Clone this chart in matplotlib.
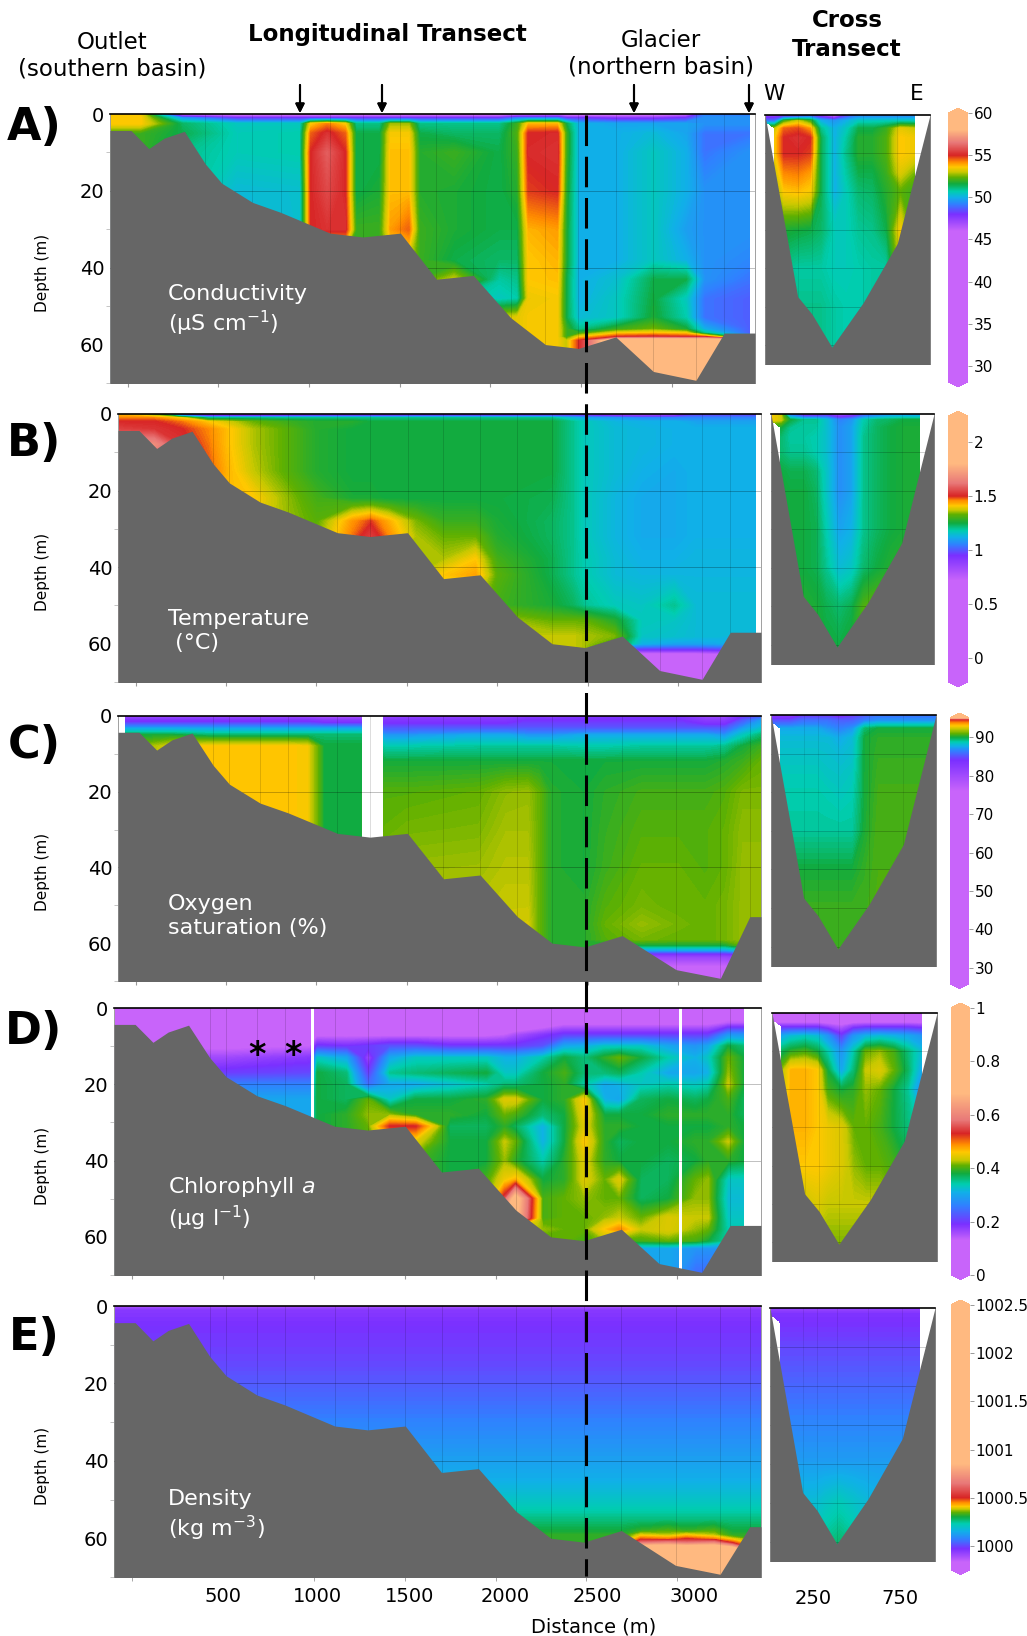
import numpy as np
import matplotlib
matplotlib.use('Agg')
import matplotlib.pyplot as plt
from matplotlib.colors import LinearSegmentedColormap, Normalize
from matplotlib.cm import ScalarMappable
from matplotlib.lines import Line2D

N = np.nan
W, H = 1027, 1636

# bottom profile along the lake and across it
bathy_x = [-98, 18, 116, 200, 312, 428, 518, 688, 844, 1116, 1297, 1504, 1703, 1906, 2112, 2304, 2486, 2692, 2899, 3134, 3290, 3460]
bathy_z = [4.3, 4.3, 9, 6.3, 4.5, 13, 18, 23, 25.6, 31, 32, 31, 43, 42, 53, 60, 61, 58, 67, 69.3, 57, 57]
bathy_x_late = [-98, 18, 116, 200, 312, 428, 518, 688, 844, 1116, 1297, 1504, 1703, 1906, 2112, 2304, 2486, 2692, 2990, 3235, 3398, 3460]
bathy_z_c = [4.3, 4.3, 9, 6.3, 4.5, 13, 18, 23, 25.6, 31, 32, 31, 43, 42, 53, 60, 61, 58, 67, 69.3, 53, 53]
cross_x = [0, 188, 271, 385, 565, 762, 950]
cross_z = [0, 47.4, 52, 60.6, 49, 33.5, 0]

colours = ['#C864FA', '#7A30FF', '#3080FF', '#10B0E8', '#00CDB0', '#10AB40', '#60B000', '#C8C800', '#FFC800', '#FF8A00', '#D82525', '#E87878', '#FFB980']

stops_a = [46, 48, 49.2, 50, 50.7, 51.6, 52.4, 53, 53.6, 54.2, 55, 56.5, 58]
stops_b = [0.72, 0.95, 1.05, 1.12, 1.18, 1.25, 1.33, 1.37, 1.41, 1.46, 1.5, 1.62, 1.8]
stops_c = [76, 84, 86.5, 87.7, 88.8, 90, 91, 92.2, 93, 93.8, 94.6, 94.8, 95]
stops_d = [0.13, 0.19, 0.26, 0.31, 0.34, 0.38, 0.41, 0.43, 0.46, 0.49, 0.53, 0.58, 0.68]
stops_e = [999.83, 999.97, 1000.07, 1000.15, 1000.23, 1000.3, 1000.35, 1000.38, 1000.41, 1000.45, 1000.5, 1000.65, 1000.85]

# A conductivity
x_a = [-98, 70, 300, 600, 950, 1010, 1100, 1200, 1260, 1390, 1450, 1550, 1610, 1800, 2050, 2150, 2210, 2370, 2420, 2490, 2700, 2900, 3080, 3180, 3430]
z_a = [0, 1, 2.5, 5, 10, 20, 30, 38, 43, 48, 53, 56, 57, 58, 59, 70]
cond = [
    [53.6,53.6,45,44,44,44,44,44,44,44,44,44,44,44,44,45,45,45,44,44,44,44,45,49,49],
    [53.6,53.6,49.5,48,48,48,48,48,48,48,48,48,48,48,48,49,49,49,48,48,47.5,47.5,48,49.5,49.5],
    [53.6,53.6,51.3,50.5,50.5,53.5,54.2,53.5,51,51,52.7,52.7,51,51,51,52,53.7,53.7,51.5,50,49.8,49.8,49.8,49.5,49.5],
    [52,52,51.5,50.6,50.7,54.5,55.2,54.5,51.5,51.5,53.5,53.5,51.5,51.3,51.3,52.2,55,55.1,52,50,50,50.2,49.8,49,49],
    [52,52,51,50.6,50.7,55,56,55,51.5,51.5,53.7,53.7,51.8,52,51.5,52,55.1,55.2,52,50,50,50.5,50,49,49.5],
    [51,51,51,50.2,50.3,55,55.6,55,51.5,51.7,53.7,53.7,51.8,51.7,51.5,51.8,54.8,55,51.8,50,50,50.5,50,49.5,49.5],
    [50,50,50,50,50.3,55,55.2,55.2,52,52,54,54.5,52,51.7,51.5,51.5,53.8,54,51.7,50,50,50.5,49.7,49.5,49.5],
    [50,50,50,50,50,52,52,52,52,52,53,53,52,51.5,51.3,51.3,53.6,53.8,51.7,50,50,50.5,50,49.5,49.3],
    [50,50,50,50,50,51,51,51,51,51,52,52,52,53,50.8,51,53.6,53.7,51.5,50,50.3,51.5,51.5,49.5,49],
    [50,50,50,50,50,51,51,51,51,51,52,52,52,51,50.5,50.7,53.4,53.5,51.5,50,50.5,51.6,50.5,49,48.7],
    [50,50,50,50,50,51,51,51,51,51,52,52,52,51,53,53.3,53.5,53.5,51.5,50.2,50.5,51.7,50.7,49,48.7],
    [50,50,50,50,50,51,51,51,51,51,52,52,52,51,53,53.3,53.5,53.5,52,51,52,52.5,51.7,50,48.7],
    [50,50,50,50,50,51,51,51,51,51,52,52,52,51,53,53.3,53.5,53.5,52,52,53.5,53.7,53.5,51,48.7],
    [50,50,50,50,50,51,51,51,51,51,52,52,52,51,53,53.3,53.5,53.5,52,53.5,55,55.2,55,55,50],
    [50,50,50,50,50,51,51,51,51,51,52,52,52,51,53,53.3,53.5,53.5,53,55,60,60,60,60,60],
    [50,50,50,50,50,51,51,51,51,51,52,52,52,51,53,53.3,53.5,53.5,53,55,60,60,60,60,60],
]

# B temperature
x_b = [-98, 100, 250, 400, 500, 650, 800, 1000, 1200, 1300, 1400, 1550, 1700, 1880, 2000, 2300, 2420, 2480, 2650, 2800, 2980, 3100, 3430]
z_b = [0, 1, 2, 4, 8, 15, 22, 28, 32, 38, 42, 50, 54, 58, 60, 61.5, 63, 70]
temp = [
    [1.42,1.3,0.85,0.7,0.7,0.7,0.72,0.75,0.75,0.75,0.75,0.78,0.78,0.78,0.78,0.8,0.85,0.85,0.75,0.72,0.75,0.95,0.95],
    [1.46,1.46,1.4,1.2,1.2,1.2,1.2,1.2,1.2,1.2,1.2,1.2,1.2,1.2,1.2,1.2,1.13,1.1,1.08,1.05,1.05,1.05,1.05],
    [1.5,1.5,1.47,1.41,1.38,1.33,1.3,1.27,1.27,1.25,1.25,1.25,1.25,1.25,1.25,1.25,1.2,1.17,1.13,1.12,1.12,1.1,1.1],
    [1.54,1.52,1.5,1.46,1.42,1.36,1.33,1.27,1.25,1.25,1.25,1.25,1.25,1.25,1.25,1.25,1.2,1.17,1.14,1.13,1.12,1.12,1.12],
    [1.68,1.68,1.52,1.47,1.42,1.36,1.33,1.27,1.25,1.25,1.25,1.25,1.25,1.25,1.25,1.25,1.2,1.17,1.14,1.13,1.12,1.12,1.12],
    [1.55,1.55,1.5,1.49,1.43,1.37,1.33,1.27,1.25,1.25,1.25,1.25,1.25,1.25,1.25,1.25,1.2,1.17,1.14,1.12,1.11,1.12,1.12],
    [1.5,1.5,1.48,1.46,1.42,1.41,1.36,1.3,1.26,1.26,1.25,1.25,1.25,1.25,1.25,1.24,1.2,1.17,1.13,1.11,1.11,1.12,1.12],
    [1.5,1.5,1.48,1.46,1.42,1.4,1.36,1.32,1.45,1.49,1.43,1.34,1.29,1.29,1.26,1.23,1.2,1.17,1.13,1.11,1.11,1.12,1.12],
    [1.5,1.5,1.48,1.46,1.42,1.4,1.36,1.34,1.47,1.53,1.46,1.36,1.33,1.33,1.27,1.23,1.2,1.17,1.13,1.11,1.11,1.12,1.12],
    [1.5,1.5,1.48,1.46,1.42,1.4,1.36,1.34,1.36,1.36,1.36,1.36,1.36,1.41,1.3,1.24,1.2,1.18,1.14,1.12,1.12,1.13,1.13],
    [1.5,1.5,1.48,1.46,1.42,1.4,1.36,1.34,1.36,1.36,1.36,1.36,1.41,1.44,1.32,1.24,1.2,1.18,1.14,1.13,1.13,1.13,1.13],
    [1.5,1.5,1.48,1.46,1.42,1.4,1.36,1.34,1.36,1.36,1.36,1.36,1.36,1.36,1.3,1.26,1.23,1.2,1.17,1.16,1.2,1.14,1.14],
    [1.5,1.5,1.48,1.46,1.42,1.4,1.36,1.34,1.36,1.36,1.36,1.36,1.36,1.36,1.36,1.33,1.33,1.33,1.27,1.17,1.16,1.14,1.14],
    [1.5,1.5,1.48,1.46,1.42,1.4,1.36,1.34,1.36,1.36,1.36,1.36,1.36,1.36,1.36,1.37,1.37,1.36,1.34,1.16,1.15,1.14,1.13],
    [1.5,1.5,1.48,1.46,1.42,1.4,1.36,1.34,1.36,1.36,1.36,1.36,1.36,1.36,1.36,1.37,1.37,1.36,1.3,1.12,1.1,1.1,1.12],
    [1.5,1.5,1.48,1.46,1.42,1.4,1.36,1.34,1.36,1.36,1.36,1.36,1.36,1.36,1.36,1.37,1.37,1.36,0.95,0.95,0.95,0.95,1],
    [1.5,1.5,1.48,1.46,1.42,1.4,1.36,1.34,1.36,1.36,1.36,1.36,1.36,1.36,1.36,1.37,1.37,1.36,0.6,0.6,0.6,0.6,0.7],
    [1.5,1.5,1.48,1.46,1.42,1.4,1.36,1.34,1.36,1.36,1.36,1.36,1.36,1.36,1.36,1.37,1.37,1.36,0.4,0.4,0.4,0.4,0.4],
]

# C oxygen
x_c = [-62, 200, 400, 650, 850, 950, 1040, 1120, 1250, 1380, 1500, 1900, 2050, 2170, 2230, 2300, 2480, 2600, 2800, 3000, 3150, 3260, 3360, 3460]
z_c = [0, 1, 3, 5, 8, 12, 20, 30, 40, 50, 55, 59, 60.5, 62, 63.5, 70]
oxy = [
    [80,80,80,80,80,79,78,78,78,80,81,81,81,82,82,81,83,83,83,83,80,80,84,85],
    [83,83,83,83,83,83,82,82,82,83,83,83,83,84,84,84,84,84,84,84,82,82,85,87],
    [87,87,87,87,87,87,87,87,87,85,85,85,85,85,85,85,85,85,85,85,85,85,87,88],
    [90,90,89.5,89.5,89.5,89.5,89.5,89.5,89.5,87,87,87.5,87.5,87,87,87,87.5,87.5,87.5,87.5,87.5,87,88.5,89.5],
    [91,92.5,93,93,93,92.8,90,90,90,88.8,88.8,89,89,89,89,89,88.8,88.8,89,89,89,89.2,90,90.5],
    [91,93,93,93,93,92.8,90,90,90,90,90,90,90,90,90,90,90,90,90,90,90,90.2,90.5,91],
    [91,93,93,93,93,92.8,90,90,90,90.8,90.8,91,91.5,91.6,91,90.2,90,90.3,90.6,90.6,90.6,90.8,91.3,91.3],
    [91,93,93,93,93,92.8,90,90,90,91,91.2,91.3,91.8,91.8,91,90.2,90,90.4,90.8,90.8,90.8,91,91.5,91.5],
    [91,93,93,93,93,92.8,90,90,90,91.5,91.6,91.7,92,92,91,90.2,90,90.5,91,91,90.8,91,91.6,91.6],
    [91,93,93,93,93,92.8,90,90,90,91.8,91.9,92,92.2,92.2,91,90.2,90.2,90.8,91.2,91,91,91.2,91.6,91.6],
    [91,93,93,93,93,92.8,90,90,90,91.8,91.9,92,92.3,92.4,91,90.2,90.2,91,91.6,91.2,91,91.2,91.6,91.6],
    [91,93,93,93,93,92.8,90,90,90,91.8,91.9,92,92.3,92.3,91,90.2,90.2,90.8,91.2,91,91,91.2,91.6,91.6],
    [91,93,93,93,93,92.8,90,90,90,91.8,91.9,92,92.3,92.3,91,90.2,90.2,90,90,90,90,90,91,91],
    [91,93,93,93,93,92.8,90,90,90,91.8,91.9,92,92.3,92.3,91,90.2,90.2,87,87,87,87,87,88,88],
    [91,93,93,93,93,92.8,90,90,90,91.8,91.9,92,92.3,92.3,91,90.2,90.2,81,81,81,81,81,82,82],
    [91,93,93,93,93,92.8,90,90,90,91.8,91.9,92,92.3,92.3,91,90.2,90.2,68,68,68,68,68,70,70],
]

# D chlorophyll
x_d = [-98, 500, 980, 1020, 1180, 1300, 1420, 1560, 1750, 1950, 2050, 2110, 2260, 2380, 2490, 2600, 2680, 2800, 2950, 3100, 3170, 3280, 3369]
z_d = [0, 4, 7, 10, 13, 17, 20, 24, 28, 31, 35, 40, 45, 50, 55, 58, 61, 63, 70]
chl = [
    [.05,.05,.05,.05,.05,.05,.05,.05,.05,.05,.05,.05,.05,.08,.08,.08,.08,.08,.08,.08,.08,.08,.08],
    [.07,.07,.07,.07,.07,.07,.07,.07,.07,.07,.07,.07,.09,.12,.12,.12,.12,.12,.12,.12,.12,.14,.14],
    [.09,.09,.09,.12,.12,.12,.12,.12,.12,.12,.13,.15,.18,.2,.2,.2,.2,.2,.2,.2,.2,.28,.28],
    [.12,.12,.13,.2,.19,.2,.22,.22,.2,.2,.2,.2,.22,.3,.31,.33,.33,.33,.3,.28,.3,.38,.36],
    [.16,.16,.18,.33,.3,.16,.3,.33,.33,.33,.31,.31,.34,.38,.36,.39,.41,.38,.34,.31,.33,.41,.38],
    [.2,.2,.21,.38,.36,.2,.35,.36,.37,.38,.33,.33,.38,.4,.36,.36,.37,.34,.3,.3,.31,.42,.38],
    [.26,.26,.26,.38,.37,.24,.3,.3,.32,.34,.36,.36,.38,.39,.34,.3,.31,.33,.34,.33,.34,.43,.38],
    [.3,.3,.3,.38,.37,.41,.33,.38,.38,.39,.44,.44,.38,.39,.46,.31,.3,.37,.38,.37,.38,.4,.37],
    [.3,.3,.3,.38,.39,.42,.42,.39,.39,.38,.41,.4,.36,.38,.45,.38,.38,.38,.39,.39,.39,.39,.37],
    [.3,.3,.3,.38,.39,.41,.53,.53,.37,.37,.39,.37,.31,.38,.44,.39,.39,.38,.38,.38,.38,.39,.38],
    [.3,.3,.3,.38,.39,.4,.45,.44,.38,.38,.43,.41,.31,.38,.46,.39,.37,.38,.38,.39,.39,.43,.38],
    [.3,.3,.3,.38,.39,.4,.4,.4,.38,.38,.42,.39,.34,.39,.44,.39,.38,.38,.37,.38,.39,.39,.38],
    [.3,.3,.3,.38,.39,.4,.4,.4,.38,.4,.45,.47,.38,.39,.44,.41,.44,.37,.37,.41,.42,.33,.33],
    [.3,.3,.3,.38,.39,.4,.4,.4,.38,.4,.55,.72,.4,.41,.42,.41,.41,.37,.38,.42,.42,.32,.32],
    [.3,.3,.3,.38,.39,.4,.4,.4,.38,.4,.7,.7,.4,.41,.41,.42,.43,.41,.44,.43,.43,.33,.33],
    [.3,.3,.3,.38,.39,.4,.4,.4,.38,.4,.45,.45,.42,.41,.41,.46,.49,.43,.44,.42,.41,.34,.34],
    [.3,.3,.3,.38,.39,.4,.4,.4,.38,.4,.42,.42,.4,.41,.4,.42,.4,.4,.41,.4,.38,.34,.34],
    [.3,.3,.3,.38,.39,.4,.4,.4,.38,.4,.42,.42,.4,.41,.4,.38,.33,.3,.3,.28,.28,.28,.28],
    [.3,.3,.3,.38,.39,.4,.4,.4,.38,.4,.42,.42,.4,.41,.4,.38,.3,.28,.3,.24,.24,.24,.24],
]

# E density
x_e = [-98, 2700, 2800, 2950, 3050, 3200, 3300, 3460]
z_e = [0, 1, 5, 15, 25, 35, 45, 50, 55, 58, 59.2, 60.2, 61.2, 62.5, 70]
dens = [
    [999.87]*8,
    [999.95]*8,
    [999.97]*8,
    [1000.0]*8,
    [1000.05]*8,
    [1000.1]*8,
    [1000.15]*8,
    [1000.2]*8,
    [1000.26]*8,
    [1000.3,1000.3,1000.32,1000.34,1000.32,1000.34,1000.3,1000.3],
    [1000.32,1000.32,1000.4,1000.38,1000.41,1000.38,1000.32,1000.32],
    [1000.32,1000.32,1000.48,1000.46,1000.5,1000.46,1000.4,1000.32],
    [1000.32,1000.32,1000.65,1000.7,1000.65,1000.7,1000.5,1000.32],
    [1000.32,1000.32,1001,1001,1001,1001,1000.9,1000.32],
    [1000.32,1000.32,1002,1002,1002,1002,1002,1000.32],
]

# cross transect, same order of panels
x_cross = [0, 57, 110, 190, 260, 320, 400, 470, 540, 620, 700, 780, 863, 950]
z_cross = [0, 1.5, 3.5, 6, 10, 15, 20, 30, 40, 50, 65]
cond_x = [
    [47,47,47,47,48,47,45,48,49,49,49,49,49,N],
    [49,49,52,53,52,50,49.5,50,50.5,50.5,50.5,50.5,50.5,N],
    [N,53,54.5,54.7,54,51,50,50.5,51.5,51.5,52,53.3,53,N],
    [N,53.5,55,55.2,55,51.5,50,50.8,51.8,51.8,52.2,53.6,53.4,N],
    [N,53.5,55,55,54.8,51.5,50,51,51.8,51.8,52.2,53.6,53.4,N],
    [N,53,54.2,54.3,54,51.5,50,50.8,51.5,51.5,52,53.2,52.5,N],
    [N,52.5,53.6,53.7,53.5,51.5,50,50.6,51.2,51.3,51.8,52.3,52,N],
    [N,51.5,51.7,51.6,51.5,51.3,50.6,50.6,50.9,51,51.5,53.5,52,N],
    [N,51,51,50.8,50.8,50.8,50.6,50.6,50.7,50.8,50.8,53,52,N],
    [N,51,51,51,51,51,50.8,50.7,50.7,50.8,50.8,51,51,N],
    [N,51,51,51,51,51,50.8,50.7,50.7,50.8,50.8,51,51,N],
]
temp_x = [
    [1.4,1.38,1.0,0.85,0.85,0.9,0.8,0.85,0.95,1.0,1.05,1.05,1.05,N],
    [1.4,1.38,1.25,1.2,1.2,1.15,1.05,1.08,1.18,1.22,1.23,1.25,1.25,N],
    [N,1.25,1.2,1.19,1.19,1.15,1.07,1.1,1.19,1.23,1.25,1.26,1.26,N],
    [N,1.22,1.19,1.19,1.18,1.15,1.07,1.1,1.2,1.23,1.25,1.26,1.26,N],
    [N,1.22,1.2,1.2,1.18,1.15,1.07,1.1,1.2,1.23,1.25,1.26,1.26,N],
    [N,1.25,1.24,1.24,1.22,1.16,1.07,1.1,1.2,1.23,1.25,1.26,1.26,N],
    [N,1.25,1.25,1.25,1.23,1.16,1.07,1.1,1.2,1.23,1.25,1.26,1.26,N],
    [N,1.25,1.25,1.25,1.24,1.18,1.1,1.12,1.2,1.23,1.25,1.26,1.26,N],
    [N,1.25,1.25,1.25,1.24,1.2,1.14,1.16,1.22,1.25,1.27,1.28,1.28,N],
    [N,1.27,1.27,1.27,1.26,1.24,1.22,1.24,1.31,1.33,1.33,1.33,1.33,N],
    [N,1.28,1.28,1.28,1.27,1.26,1.26,1.27,1.3,1.3,1.3,1.3,1.3,N],
]
oxy_x = [
    [82,82,82,84,84,84,83,84,85,86,86,86,86,86],
    [85,85,85,86,86,86,85.5,85.5,86.5,87,87,87,87,87],
    [N,87.5,87.5,87.5,87.5,87,86.5,87,89.5,90,90,90,90,90],
    [N,88,88,88,88,88,87.5,88,90,90.3,90.3,90.3,90.3,90.3],
    [N,88.3,88.3,88.3,88.3,88.2,88,88.2,90,90.4,90.4,90.4,90.4,90.4],
    [N,88.6,88.6,88.6,88.6,88.4,88.3,88.5,90,90.5,90.5,90.5,90.5,90.5],
    [N,88.8,88.8,88.8,88.8,88.7,88.5,88.7,90,90.6,90.6,90.6,90.6,90.6],
    [N,89,89,89,89,89,89,89,90.1,90.7,90.7,90.7,90.7,90.7],
    [N,90,90,90,90,90,90,90,90.4,90.7,90.7,90.7,90.7,90.7],
    [N,90.5,90.5,90.5,90.5,90.5,90.5,90.5,90.5,90.8,90.8,90.8,90.8,90.8],
    [N,90.5,90.5,90.5,90.5,90.5,90.5,90.5,90.5,90.8,90.8,90.8,90.8,90.8],
]
chl_x = [
    [.06,.06,.06,.06,.06,.06,.06,.06,.06,.06,.06,.06,.06,N],
    [.08,.08,.08,.08,.08,.08,.08,.08,.08,.08,.08,.08,.08,N],
    [N,.18,.18,.18,.18,.16,.14,.17,.18,.18,.18,.18,.17,N],
    [N,.3,.32,.33,.32,.28,.2,.28,.31,.32,.31,.3,.28,N],
    [N,.37,.39,.4,.38,.34,.28,.34,.41,.42,.4,.36,.32,N],
    [N,.42,.47,.47,.46,.38,.3,.36,.43,.44,.41,.37,.3,N],
    [N,.43,.47,.47,.46,.4,.38,.39,.42,.41,.38,.35,.27,N],
    [N,.46,.47,.47,.46,.45,.44,.41,.41,.4,.38,.36,.33,N],
    [N,.45,.46,.46,.46,.45,.44,.42,.41,.41,.4,.38,.36,N],
    [N,.43,.43,.43,.44,.43,.43,.43,.43,.43,.42,.42,.41,N],
    [N,.41,.41,.41,.41,.41,.41,.41,.41,.41,.41,.41,.41,N],
]
dens_x = [
    [999.92]*13 + [N],
    [999.96]*13 + [N],
    [N] + [999.97]*12 + [N],
    [N] + [999.98]*12 + [N],
    [N] + [1000.0]*12 + [N],
    [N] + [1000.02]*12 + [N],
    [N] + [1000.04]*12 + [N],
    [N] + [1000.08]*12 + [N],
    [N] + [1000.12]*12 + [N],
    [N,1000.16,1000.16,1000.18,1000.18,1000.2,1000.22,1000.2,1000.18,1000.16,1000.16,1000.16,1000.16,N],
    [N,1000.16,1000.16,1000.2,1000.25,1000.28,1000.3,1000.28,1000.24,1000.2,1000.16,1000.16,1000.16,N],
]

# colourbar ranges and tick labels
lims_a, lims_b, lims_c, lims_d, lims_e = (28.1, 60), (-0.22, 2.24), (25.8, 95), (0, 1), (999.75, 1002.5)
cb_ticks_a = [30, 35, 40, 45, 50, 55, 60]
cb_ticks_b = [0, 0.5, 1, 1.5, 2]
cb_ticks_c = [30, 40, 50, 60, 70, 80, 90]
cb_ticks_d = [0, 0.2, 0.4, 0.6, 0.8, 1]
cb_ticks_e = [1000, 1000.5, 1001, 1001.5, 1002, 1002.5]
cb_labels_e = ['1000', '1000.5', '1001', '1001.5', '1002', '1002.5']

depth_ticks = [0, 20, 40, 60]
dist_ticks = [0, 500, 1000, 1500, 2000, 2500, 3000]
dist_label_x = [500, 1020, 1530, 2055, 2560, 3090]
dist_labels = ['500', '1000', '1500', '2000', '2500', '3000']

gap_a = [(3430, 3460)]
gap_b = [(3440, 3460)]
gap_c = [(-98, -62), (1250, 1369)]
gap_d = [(986, 1004), (3009, 3027), (3369, 3460)]
gap_e = []

plt.rcParams['font.family'] = 'DejaVu Sans'
fig = plt.figure(figsize=(W / 100, H / 100), dpi=100)
GREY = '#666666'
CB_TIP = 0.018


def box(x0, y0, x1, y1):
    return [x0 / W, 1 - y1 / H, (x1 - x0) / W, (y1 - y0) / H]


def make_cmap(stops, lims):
    pos = [(s - lims[0]) / (lims[1] - lims[0]) for s in stops]
    pos = [0] + pos + [1]
    cols = [colours[0]] + colours + [colours[-1]]
    pos = np.maximum.accumulate(np.clip(pos, 0, 1))
    cm = LinearSegmentedColormap.from_list('c', list(zip(pos, cols)), N=1024)
    cm.set_under(colours[0])
    cm.set_over(colours[-1])
    return cm


def style_spines(ax):
    ax.spines['top'].set_color('black')
    ax.spines['top'].set_linewidth(1.2)
    ax.spines['top'].set_zorder(6)
    for s in ['left', 'right', 'bottom']:
        ax.spines[s].set_color('#a0a0a0')
        ax.spines[s].set_linewidth(0.7)


def long_panel(rect, xs, zs, vals, cm, lims, gaps, bx, bz, ymax=70):
    ax = fig.add_axes(box(*rect))
    lev = np.linspace(lims[0], lims[1], 500)
    ax.contourf(xs, zs, np.array(vals, dtype=float), levels=lev, cmap=cm, extend='both', zorder=1)
    for g in gaps:
        ax.axvspan(g[0], g[1], color='white', lw=0, zorder=2)
    for bxx in bx[5:-1]:
        ax.axvline(bxx, color='k', lw=0.6, alpha=0.16, zorder=3)
    for d in [20, 40]:
        ax.axhline(d, color='k', lw=0.7, alpha=0.25, zorder=3)
    ax.fill_between(bx, bz, ymax + 2, color=GREY, lw=0, zorder=4)
    ax.set_xlim(-98, 3460)
    ax.set_ylim(ymax, 0)
    ax.set_yticks(depth_ticks)
    ax.set_yticks([10, 30, 50, 70], minor=True)
    ax.set_xticks(dist_ticks)
    ax.set_xticklabels([])
    ax.tick_params(axis='y', labelsize=14, length=0, pad=4)
    ax.tick_params(axis='y', which='minor', length=3, color='#bbbbbb')
    ax.tick_params(axis='x', length=3, color='#999999')
    ax.set_ylabel('Depth (m)', fontsize=11)
    ax.yaxis.set_label_coords((50 - rect[0]) / (rect[2] - rect[0]), 0.41)
    style_spines(ax)
    return ax


def cross_panel(rect, vals, cm, lims, ymax):
    ax = fig.add_axes(box(*rect))
    lev = np.linspace(lims[0], lims[1], 500)
    ax.contourf(x_cross, z_cross, np.array(vals, dtype=float), levels=lev, cmap=cm, extend='both', zorder=1)
    for xx in cross_x[1:-1]:
        ax.axvline(xx, color='k', lw=0.5, alpha=0.13, zorder=3)
    for d in range(10, 70, 10):
        ax.axhline(d, color='k', lw=0.6, alpha=0.22, zorder=3)
    ax.fill_between(cross_x, cross_z, ymax + 2, color=GREY, lw=0, zorder=4)
    ax.set_xlim(0, 950)
    ax.set_ylim(ymax, 0)
    ax.set_yticks([])
    ax.set_xticks([250, 750])
    ax.set_xticklabels([])
    ax.tick_params(axis='x', length=0)
    style_spines(ax)
    return ax


def cbar(rect, cm, lims, ticks, labels=None):
    # the extend tips live inside the axes box, so widen the box by one tip each way
    tip = (rect[3] - rect[1]) * CB_TIP
    cax = fig.add_axes(box(rect[0], rect[1] - tip, rect[2], rect[3] + tip))
    sm = ScalarMappable(norm=Normalize(lims[0], lims[1]), cmap=cm)
    cb = fig.colorbar(sm, cax=cax, extend='both', extendfrac=CB_TIP, ticks=ticks)
    cb.outline.set_visible(False)
    cb.ax.tick_params(labelsize=11, length=3, width=0.6, color='#888888', pad=1)
    if labels is None:
        labels = [('%g' % t) for t in ticks]
    cb.set_ticklabels(labels)
    return cb


rows = [
    dict(rl=(110, 114, 755, 383), rc=(765, 115, 930, 364), rb=(948, 113, 968, 382), yc=65, xs=x_a, zs=z_a, v=cond, vx=cond_x,
         st=stops_a, lm=lims_a, gp=gap_a, t=cb_ticks_a, bx=bathy_x, bz=bathy_z),
    dict(rl=(118, 414, 761, 682), rc=(771, 414, 934, 664), rb=(948, 416, 968, 682), yc=65, xs=x_b, zs=z_b, v=temp, vx=temp_x,
         st=stops_b, lm=lims_b, gp=gap_b, t=cb_ticks_b, bx=bathy_x, bz=bathy_z),
    dict(rl=(118, 716, 761, 981), rc=(771, 715, 936, 966), rb=(950, 718, 969, 984), yc=65, xs=x_c, zs=z_c, v=oxy, vx=oxy_x,
         st=stops_c, lm=lims_c, gp=gap_c, t=cb_ticks_c, bx=bathy_x_late, bz=bathy_z_c),
    dict(rl=(114, 1008, 761, 1275), rc=(772, 1013, 937, 1261), rb=(951, 1008, 970, 1275), yc=65, xs=x_d, zs=z_d, v=chl, vx=chl_x,
         st=stops_d, lm=lims_d, gp=gap_d, t=cb_ticks_d, bx=bathy_x, bz=bathy_z),
    dict(rl=(114, 1306, 761, 1577), rc=(770, 1308, 935, 1561), rb=(951, 1305, 970, 1570), yc=65, xs=x_e, zs=z_e, v=dens, vx=dens_x,
         st=stops_e, lm=lims_e, gp=gap_e, t=cb_ticks_e, bx=bathy_x_late, bz=bathy_z),
]

long_axes = []
cross_axes = []
for r in rows:
    cm = make_cmap(r['st'], r['lm'])
    long_axes.append(long_panel(r['rl'], r['xs'], r['zs'], r['v'], cm, r['lm'], r['gp'], r['bx'], r['bz']))
    cross_axes.append(cross_panel(r['rc'], r['vx'], cm, r['lm'], r['yc']))
    cbar(r['rb'], cm, r['lm'], r['t'], cb_labels_e if r['t'] is cb_ticks_e else None)

# distance labels sit a bit right of the true tick marks in the original
ax_e = long_axes[-1]
ax_e.set_xticks(dist_ticks, minor=True)
ax_e.set_xticks(dist_label_x)
ax_e.set_xticklabels(dist_labels)
ax_e.tick_params(axis='x', which='major', labelsize=14, length=0, pad=7)
ax_e.tick_params(axis='x', which='minor', length=3, color='#999999')
ax_e.set_xlabel('Distance (m)', fontsize=14)
ax_e.xaxis.set_label_coords((594 - 114) / 647, -0.15)
cx_e = cross_axes[-1]
cx_e.set_xticklabels(['250', '750'])
cx_e.tick_params(axis='x', labelsize=14, length=0, pad=20)


def ftext(x, y, s, **kw):
    kw.setdefault('ha', 'center')
    kw.setdefault('va', 'center')
    return fig.text(x / W, 1 - y / H, s, **kw)


ftext(112, 56, 'Outlet\n(southern basin)', fontsize=16.5, linespacing=1.22)
ftext(387, 34, 'Longitudinal Transect', fontsize=16.5, fontweight='bold')
ftext(661, 54, 'Glacier\n(northern basin)', fontsize=16.5, linespacing=1.22)
ftext(847, 35, 'Cross\nTransect', fontsize=16.5, fontweight='bold', linespacing=1.3)
ftext(774, 94, 'W', fontsize=15.5)
ftext(917, 94, 'E', fontsize=15.5)

for lab, y in zip(['A)', 'B)', 'C)', 'D)', 'E)'], [128, 443, 746, 1031, 1338]):
    ftext(34, y, lab, fontsize=32, fontweight='bold')

for x in [300, 382, 634, 749]:
    fig.add_artist(plt.annotate('', xy=(x / W, 1 - 113 / H), xytext=(x / W, 1 - 85 / H), xycoords='figure fraction',
                                textcoords='figure fraction',
                                arrowprops=dict(arrowstyle='-|>', color='k', lw=1.5, mutation_scale=13, shrinkA=0, shrinkB=0)))

names = ['Conductivity\n(µS cm$^{-1}$)', 'Temperature\n (°C)', 'Oxygen\nsaturation (%)', 'Chlorophyll $a$\n(µg l$^{-1}$)', 'Density\n(kg m$^{-3}$)']
for s, y in zip(names, [311, 631, 916, 1204, 1516]):
    ftext(168, y, s, fontsize=16, color='white', ha='left', linespacing=1.22, zorder=10)

ftext(257, 1056, '*', fontsize=24, fontweight='bold', zorder=10)
ftext(293, 1056, '*', fontsize=24, fontweight='bold', zorder=10)

fig.add_artist(Line2D([585.5 / W, 585.5 / W], [1 - 115 / H, 1 - 1576 / H], color='k', lw=2.2, dashes=(10, 3.5), zorder=20))

fig.savefig('out.png', dpi=100)
